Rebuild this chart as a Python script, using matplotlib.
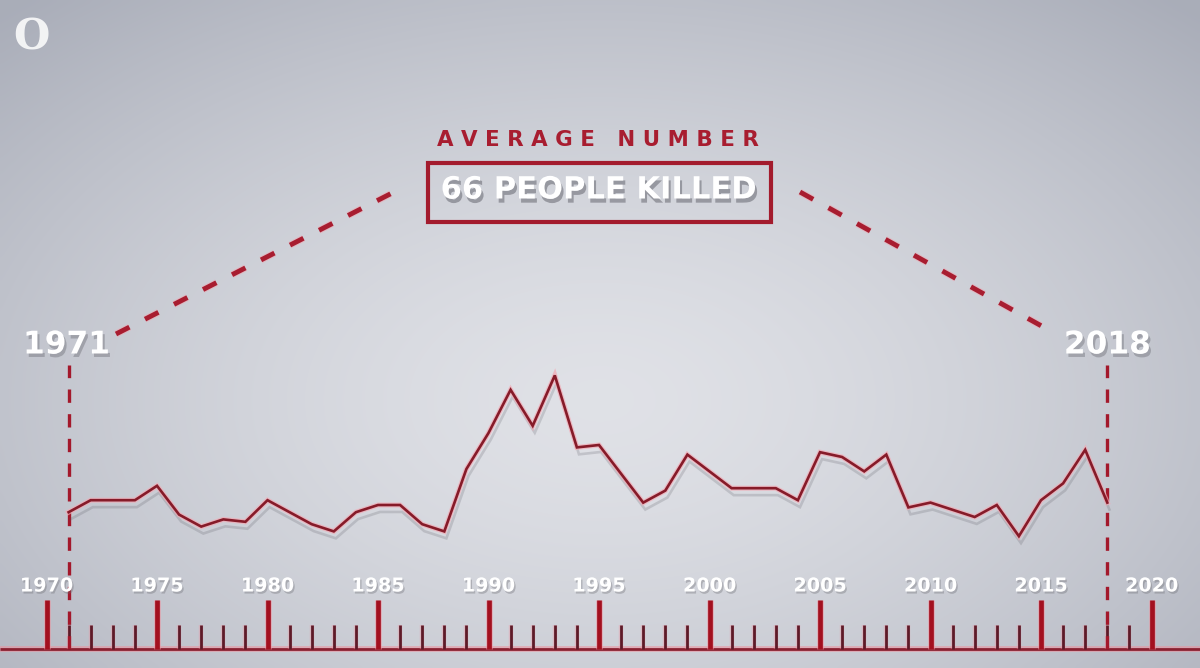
import numpy as np
import matplotlib
matplotlib.use("Agg")
import matplotlib.pyplot as plt
import matplotlib.patheffects as pe
from matplotlib.patches import Rectangle
from matplotlib.lines import Line2D

# ---------------- data ----------------
years = list(range(1971, 2019))
killed = [57, 62, 62, 62, 68, 56, 51, 54, 53, 62,
          57, 52, 49, 57, 60, 60, 52, 49, 75, 90,
          108, 93, 114, 84, 85, 73, 61, 66, 81, 74,
          67, 67, 67, 62, 82, 80, 74, 81, 59, 61,
          58, 55, 60, 47, 62, 69, 83, 61]
major_ticks = [1970, 1975, 1980, 1985, 1990, 1995, 2000, 2005, 2010, 2015, 2020]
minor_ticks = [y for y in range(1970, 2021) if y % 5 != 0]
tick_labels = [str(y) for y in major_ticks]
title_top = "AVERAGE NUMBER"
title_box = "66 PEOPLE KILLED"
start_label, end_label = "1971", "2018"

W, H = 1200, 668
fig = plt.figure(figsize=(W / 100, H / 100), dpi=100)
ax = fig.add_axes([0, 0, 1, 1])
ax.set_axis_off()

px_per_year = 22.1
x0 = 1970 - 46.5 / px_per_year
ax.set_xlim(x0, x0 + W / px_per_year)
px_per_unit = 2.4
base_px = 668 - 649
y0 = -base_px / px_per_unit
ax.set_ylim(y0, y0 + H / px_per_unit)

def fy(py):  # pixel from top -> axes fraction
    return (H - py) / H

# ---------------- background ----------------
gx, gy = np.meshgrid(np.linspace(0, 1, 300), np.linspace(0, 1, 170))
r = np.sqrt(((gx - 0.5) / 0.72) ** 2 + ((gy - 0.6) / 0.8) ** 2)
t = np.clip(r, 0, 1) ** 1.5
c_in = np.array([0.878, 0.884, 0.905])
c_out = np.array([0.665, 0.68, 0.725])
img = c_in[None, None, :] * (1 - t[..., None]) + c_out[None, None, :] * t[..., None]
ax.imshow(img, extent=[0, 1, 0, 1], transform=ax.transAxes, aspect="auto",
          origin="upper", zorder=0, interpolation="bicubic")

xt = ax.get_xaxis_transform()

# ---------------- axis baseline and ticks ----------------
glow = [pe.Stroke(linewidth=4.2, foreground="#ee8f9c", alpha=0.55), pe.Normal()]
ax.plot([0, 1], [fy(649), fy(649)], transform=ax.transAxes, color="#8a2131",
        lw=2.0, zorder=3, solid_capstyle="butt", path_effects=glow)
ax.vlines(major_ticks, fy(649), fy(600), transform=xt, color="#a3101f", lw=3.4,
          zorder=4, path_effects=[pe.Stroke(linewidth=5.0, foreground="#ee8f9c", alpha=0.5), pe.Normal()])
ax.vlines(minor_ticks, fy(649), fy(625), transform=xt, color="#5e1a28", lw=2.0,
          zorder=4, path_effects=[pe.Stroke(linewidth=3.2, foreground="#ee8f9c", alpha=0.35), pe.Normal()])

shadow_small = [pe.withSimplePatchShadow(offset=(1, -1.5), shadow_rgbFace="#6a6a70", alpha=0.35)]
for yr, lab in zip(major_ticks, tick_labels):
    ax.text(yr, fy(586), lab, transform=xt, ha="center", va="center",
            fontsize=13.8, fontweight="bold", family="DejaVu Sans", color="white",
            zorder=6, path_effects=shadow_small)

# ---------------- vertical dashed guides ----------------
for yr in (years[0], years[-1]):
    ax.plot([yr, yr], [fy(649), fy(365)], transform=xt, color="#a3182b", lw=2.4,
            linestyle=(0, (4.0, 3.4)), dash_capstyle="butt", zorder=5)

# ---------------- data line ----------------
ax.plot(years, killed, color="#861b29", lw=1.9, zorder=7, solid_joinstyle="miter",
        path_effects=[pe.SimpleLineShadow(offset=(1.5, -5), shadow_color="#50505a", alpha=0.2),
                      pe.Stroke(linewidth=3.6, foreground="#f3a9b4", alpha=0.7),
                      pe.Normal()])

# ---------------- diagonal dashed connectors ----------------
dash_fx = [pe.Stroke(linewidth=5.0, foreground="#f2a3ae", alpha=0.5), pe.Normal()]
ax.add_line(Line2D([116 / W, 396 / W], [fy(334), fy(191)], transform=ax.transAxes,
                   color="#a81d30", lw=3.5, linestyle=(0, (3.1, 3.6)),
                   dash_capstyle="butt", zorder=5, path_effects=dash_fx))
ax.add_line(Line2D([800 / W, 1056 / W], [fy(192), fy(334)], transform=ax.transAxes,
                   color="#a81d30", lw=3.5, linestyle=(0, (3.1, 3.6)),
                   dash_capstyle="butt", zorder=5, path_effects=dash_fx))

# ---------------- big year labels ----------------
shadow_big = [pe.withSimplePatchShadow(offset=(1.5, -2.5), shadow_rgbFace="#5a5a62", alpha=0.35)]
ax.text(years[0] - 0.1, fy(345), start_label, transform=xt, ha="center", va="center",
        fontsize=22.5, fontweight="bold", family="DejaVu Sans", color="white",
        zorder=6, path_effects=shadow_big)
ax.text(years[-1], fy(345), end_label, transform=xt, ha="center", va="center",
        fontsize=22.5, fontweight="bold", family="DejaVu Sans", color="white",
        zorder=6, path_effects=shadow_big)

# ---------------- title ----------------
ax.text(598 / W, fy(140), " ".join(title_top.split(" ")[0]) + "   " + " ".join(title_top.split(" ")[1]),
        transform=ax.transAxes, ha="center", va="center", fontsize=15.4,
        fontweight="bold", family="DejaVu Sans", color="#a81d30", zorder=6)

ax.add_patch(Rectangle((428 / W, fy(222)), (771 - 428) / W, (222 - 163) / H,
                       transform=ax.transAxes, fill=False, edgecolor="#a31b2d",
                       lw=3.0, zorder=6))
ax.text(598 / W, fy(190), title_box, transform=ax.transAxes, ha="center", va="center",
        fontsize=22, fontweight="bold", family="DejaVu Sans", color="white", zorder=7,
        path_effects=[pe.withSimplePatchShadow(offset=(1.5, -3), shadow_rgbFace="#50505a", alpha=0.45)])

# ---------------- logo ----------------
ax.text(31 / W, fy(38), "O", transform=ax.transAxes, ha="center", va="center",
        fontsize=30, fontweight="bold", family="DejaVu Serif", color="white", alpha=0.85,
        zorder=6)

fig.savefig("out.png", dpi=100)
